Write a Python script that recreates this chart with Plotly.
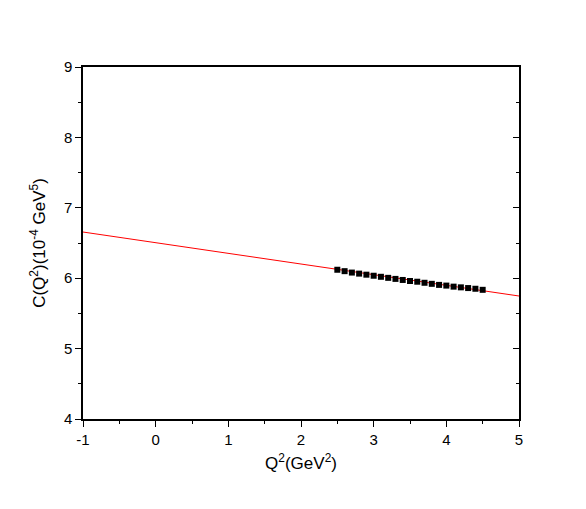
import plotly.graph_objects as go

# Data
q2_points = [2.5, 2.6, 2.7, 2.8, 2.9, 3.0, 3.1, 3.2, 3.3, 3.4, 3.5,
             3.6, 3.7, 3.8, 3.9, 4.0, 4.1, 4.2, 4.3, 4.4, 4.5]
c_points = [6.12, 6.10, 6.08, 6.065, 6.05, 6.035, 6.02, 6.005, 5.99, 5.975, 5.96,
            5.95, 5.935, 5.92, 5.905, 5.895, 5.88, 5.87, 5.86, 5.85, 5.835]
fit_x = [-1, 5]
fit_y = [6.656, 5.747]

x_ticks = [-1, 0, 1, 2, 3, 4, 5]
x_labels = ["-1", "0", "1", "2", "3", "4", "5"]
y_ticks = [4, 5, 6, 7, 8, 9]
y_labels = ["4", "5", "6", "7", "8", "9"]

font_family = "Liberation Sans, Arial, sans-serif"

fig = go.Figure()
fig.add_trace(go.Scatter(x=fit_x, y=fit_y, mode="lines",
                         line=dict(color="#ff0000", width=1), showlegend=False))
fig.add_trace(go.Scatter(x=q2_points, y=c_points, mode="markers",
                         marker=dict(symbol="square", size=6, color="black"),
                         showlegend=False))
# invisible trace to activate right axis
fig.add_trace(go.Scatter(x=fit_x, y=fit_y, yaxis="y2", mode="lines",
                         line=dict(color="rgba(0,0,0,0)"), showlegend=False,
                         hoverinfo="skip"))

fig.update_layout(
    width=586, height=509,
    margin=dict(l=83, r=67, t=67, b=90),
    paper_bgcolor="white", plot_bgcolor="white",
    font=dict(family=font_family, color="black", size=15),
    xaxis=dict(range=[-1, 5], tickvals=x_ticks, ticktext=x_labels,
               ticks="outside", ticklen=6,
               tickwidth=1, tickcolor="black", showline=True, linecolor="black",
               linewidth=1.5, mirror=True, showgrid=False, zeroline=False,
               minor=dict(dtick=0.5, ticks="outside", ticklen=3, tickcolor="black",
                          showgrid=False),
               title=dict(text="Q<sup>2</sup>(GeV<sup>2</sup>)", font=dict(size=17),
                          standoff=10),
               tickfont=dict(size=15)),
    yaxis=dict(range=[4, 9], tickvals=y_ticks, ticktext=y_labels,
               ticks="outside", ticklen=6,
               tickwidth=1, tickcolor="black", showline=True, linecolor="black",
               linewidth=1.5, mirror=True, showgrid=False, zeroline=False,
               minor=dict(dtick=0.5, ticks="outside", ticklen=3, tickcolor="black",
                          showgrid=False),
               title=dict(text="C(Q<sup>2</sup>)(10<sup>-4</sup> GeV<sup>5</sup>)",
                          font=dict(size=17), standoff=14),
               tickfont=dict(size=15)),
    yaxis2=dict(range=[4, 9], overlaying="y", side="right", tickvals=y_ticks,
                ticks="inside", ticklen=6, tickwidth=1, tickcolor="black",
                showticklabels=False, showline=True, linecolor="black",
                linewidth=1.5, showgrid=False, zeroline=False,
                minor=dict(dtick=0.5, ticks="inside", ticklen=3, tickcolor="black",
                           showgrid=False)),
)

fig.write_html("out.html")
